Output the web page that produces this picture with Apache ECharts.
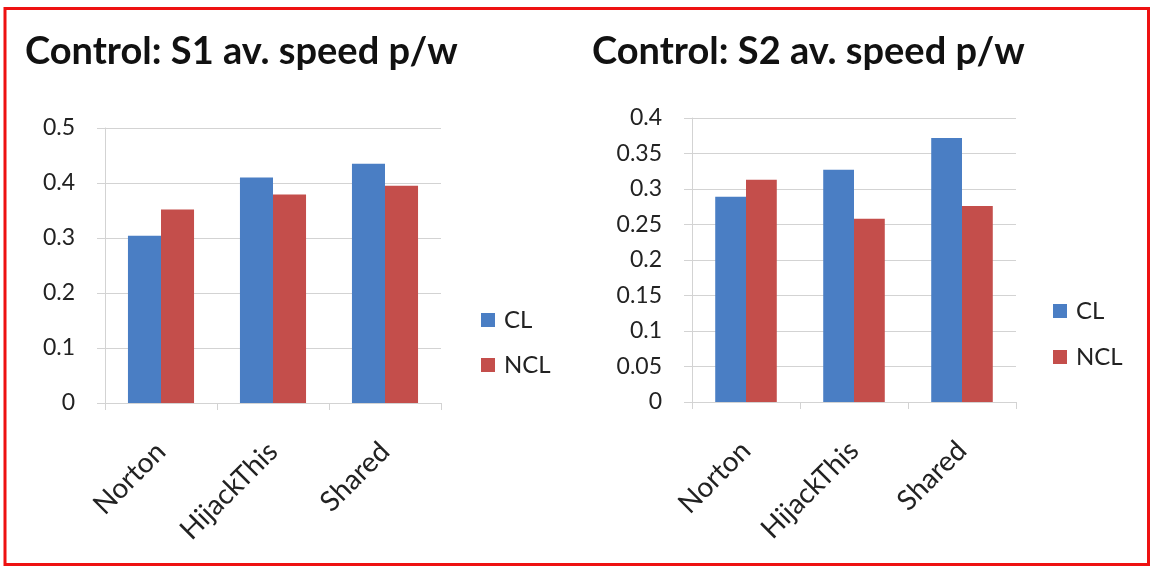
<!DOCTYPE html>
<html>
<head>
<meta charset="utf-8">
<script src="https://cdn.jsdelivr.net/npm/echarts@6/dist/echarts.min.js"></script>
<style>
html,body{margin:0;padding:0;background:#fff;}
#c{width:1151px;height:566px;}
</style>
</head>
<body>
<div id="c"></div>
<script>
const categories = ['Norton', 'HijackThis', 'Shared'];
const seriesNames = ['CL', 'NCL'];
const s1CL = [0.304, 0.410, 0.435];
const s1NCL = [0.352, 0.379, 0.395];
const s2CL = [0.289, 0.327, 0.372];
const s2NCL = [0.313, 0.258, 0.276];
const titles = ['Control: S1 av. speed p/w', 'Control: S2 av. speed p/w'];
const s1Y = [0, 0.5, 0.1];   // min, max, interval
const s2Y = [0, 0.4, 0.05];

const FONT = 'Lato';
const BLUE = '#4A7EC4';
const RED = '#C44E4B';
const GRID = '#d3d3d3';

function yAxis(idx, spec) {
  return {
    type: 'value', gridIndex: idx, min: spec[0], max: spec[1], interval: spec[2],
    axisLine: {show: true, lineStyle: {color: GRID}},
    axisTick: {show: true, length: 8, lineStyle: {color: GRID}},
    splitLine: {show: true, lineStyle: {color: GRID}},
    axisLabel: {fontFamily: FONT, fontSize: 23, color: '#222', margin: 30}
  };
}
function xAxis(idx) {
  return {
    type: 'category', gridIndex: idx, data: categories,
    axisLine: {show: true, lineStyle: {color: GRID}},
    axisTick: {show: true, length: 7, lineStyle: {color: GRID}},
    axisLabel: {fontFamily: FONT, fontSize: 28, color: '#222', rotate: 45,
      margin: 44, padding: [40, 0, 0, 0], interval: 0}
  };
}

const chart = echarts.init(document.getElementById('c'), null, {renderer: 'canvas'});
chart.setOption({
  backgroundColor: '#fff',
  animation: false,
  color: [BLUE, RED],
  title: [
    {text: titles[0], left: 20, top: 28, textStyle: {fontFamily: FONT, fontWeight: 'bold', fontSize: 38, color: '#111'}},
    {text: titles[1], left: 587, top: 28, textStyle: {fontFamily: FONT, fontWeight: 'bold', fontSize: 38, color: '#111'}}
  ],
  legend: [
    {data: seriesNames, orient: 'vertical', left: 476, top: 303, itemWidth: 14, itemHeight: 14, itemGap: 21,
      icon: 'rect', textStyle: {fontFamily: FONT, fontSize: 24, color: '#222', padding: [0, 0, 0, 4]}},
    {data: seriesNames, orient: 'vertical', left: 1048, top: 294, itemWidth: 14, itemHeight: 14, itemGap: 22,
      icon: 'rect', textStyle: {fontFamily: FONT, fontSize: 24, color: '#222', padding: [0, 0, 0, 4]}}
  ],
  grid: [
    {left: 105, top: 128, width: 336, height: 275, containLabel: false},
    {left: 692, top: 118, width: 324, height: 284, containLabel: false}
  ],
  xAxis: [xAxis(0), xAxis(1)],
  yAxis: [yAxis(0, s1Y), yAxis(1, s2Y)],
  series: [
    {name: 'CL', type: 'bar', xAxisIndex: 0, yAxisIndex: 0, data: s1CL, barGap: '0%', barCategoryGap: '41%', itemStyle: {color: BLUE}},
    {name: 'NCL', type: 'bar', xAxisIndex: 0, yAxisIndex: 0, data: s1NCL, barGap: '0%', barCategoryGap: '41%', itemStyle: {color: RED}},
    {name: 'CL', type: 'bar', xAxisIndex: 1, yAxisIndex: 1, data: s2CL, barGap: '0%', barCategoryGap: '43%', itemStyle: {color: BLUE}},
    {name: 'NCL', type: 'bar', xAxisIndex: 1, yAxisIndex: 1, data: s2NCL, barGap: '0%', barCategoryGap: '43%', itemStyle: {color: RED}}
  ],
  graphic: [
    {type: 'rect', silent: true, z: 100,
      shape: {x: 5, y: 8.5, width: 1143.5, height: 556},
      style: {fill: 'none', stroke: '#ee1111', lineWidth: 3}}
  ]
});
</script>
</body>
</html>
